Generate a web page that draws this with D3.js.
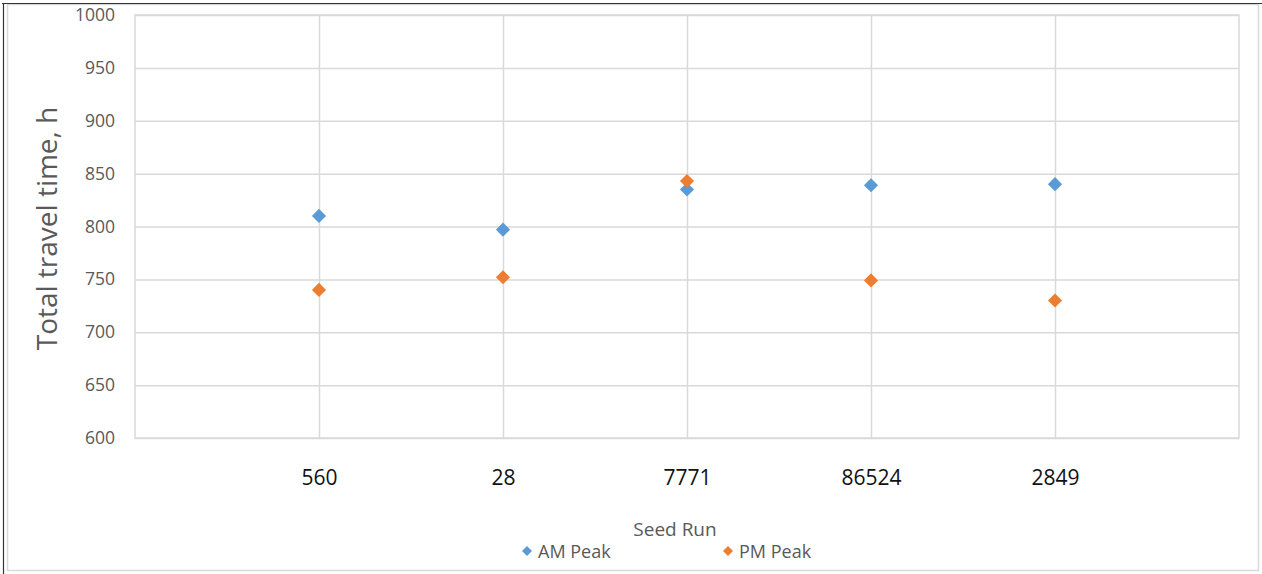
<!DOCTYPE html>
<html><head><meta charset="utf-8">
<script src="https://cdn.jsdelivr.net/npm/d3@7"></script>
<style>html,body{margin:0;padding:0;background:#fff;}svg{display:block;}</style>
</head><body><svg id="c" width="1262" height="574"></svg>
<script>
const categories = ["560", "28", "7771", "86524", "2849"];
const amPeak = [810, 797, 835, 839, 840];
const pmPeak = [740, 752, 843, 749, 730];
const yTicks = [600, 650, 700, 750, 800, 850, 900, 950, 1000];
const seriesNames = ["AM Peak", "PM Peak"];
const seriesColors = ["#5b9bd5", "#ed7d31"];
const yTitle = "Total travel time, h";
const xTitle = "Seed Run";

const svg = d3.select("#c");
const font = "'Open Sans', sans-serif";
const W = 1262, H = 574;
const plot = {l: 135, r: 1239, t: 15, b: 438};

// frame
svg.append("rect").attr("x", 7.5).attr("y", 4.5).attr("width", 1251).attr("height", 566)
  .attr("fill", "#fff").attr("stroke", "#d9d9d9").attr("stroke-width", 1.5);
svg.append("line").attr("x1", 2).attr("x2", W).attr("y1", 3.5).attr("y2", 3.5).attr("stroke", "#333").attr("stroke-width", 1.2);
svg.append("line").attr("x1", 3.5).attr("x2", 3.5).attr("y1", 3).attr("y2", H).attr("stroke", "#333").attr("stroke-width", 1.2);

const x = d3.scalePoint().domain(categories).range([plot.l, plot.r]).padding(1);
const y = d3.scaleLinear().domain([600, 1000]).range([plot.b, plot.t]);

// horizontal gridlines via axis
const gy = svg.append("g").attr("transform", `translate(${plot.l},0)`)
  .call(d3.axisLeft(y).tickValues(yTicks).tickFormat(d3.format("d")).tickSize(-(plot.r - plot.l)).tickPadding(20));
gy.select(".domain").remove();
gy.selectAll(".tick line").attr("stroke", "#d9d9d9").attr("stroke-width", 1.5);
gy.selectAll(".tick text").attr("fill", "#595959").style("font-family", font).style("font-size", "17.5px");

// vertical gridlines
const gx = svg.append("g").attr("transform", `translate(0,${plot.b})`)
  .call(d3.axisBottom(x).tickSize(-(plot.b - plot.t)).tickPadding(32));
gx.select(".domain").remove();
gx.selectAll(".tick line").attr("stroke", "#d9d9d9").attr("stroke-width", 1.5);
gx.selectAll(".tick text").attr("fill", "#111").style("font-family", font).style("font-size", "21px");

// plot border
svg.append("rect").attr("x", plot.l).attr("y", plot.t).attr("width", plot.r - plot.l).attr("height", plot.b - plot.t)
  .attr("fill", "none").attr("stroke", "#d9d9d9").attr("stroke-width", 1.5);

const diamond = d3.symbol().type(d3.symbolDiamond2).size(128);
[amPeak, pmPeak].forEach((vals, si) => {
  svg.append("g").selectAll("path").data(vals).join("path")
    .attr("d", diamond)
    .attr("transform", (d, i) => `translate(${x(categories[i])},${y(d)})`)
    .attr("fill", seriesColors[si]);
});

// axis titles
svg.append("text").attr("transform", `translate(57,${(plot.t + plot.b) / 2 + 2}) rotate(-90)`)
  .attr("text-anchor", "middle").attr("fill", "#595959").style("font-family", font).style("font-size", "28px").text(yTitle);
svg.append("text").attr("x", 675).attr("y", 536).attr("text-anchor", "middle")
  .attr("fill", "#595959").style("font-family", font).style("font-size", "19px").text(xTitle);

// legend
const legX = [527, 728];
seriesNames.forEach((n, i) => {
  svg.append("path").attr("d", d3.symbol().type(d3.symbolDiamond2).size(64))
    .attr("transform", `translate(${legX[i]},551)`).attr("fill", seriesColors[i]);
  svg.append("text").attr("x", legX[i] + 11).attr("y", 557.5).attr("fill", "#595959")
    .style("font-family", font).style("font-size", "18px").text(n);
});
</script></body></html>
